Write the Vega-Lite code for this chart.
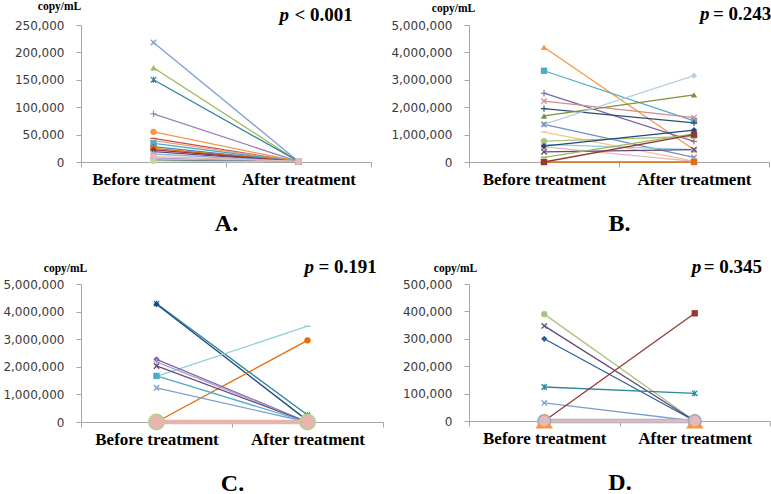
{
  "$schema": "https://vega.github.io/schema/vega-lite/v6.json",
  "padding": {"left": 2, "top": 0, "right": 0, "bottom": 0},
  "background": "white",
  "config": {
    "view": {"stroke": null},
    "legend": {"disable": true},
    "axis": {"grid": false, "domainColor": "#a6a6a6", "tickColor": "#a6a6a6", "tickSize": 5, "labelFont": "DejaVu Sans", "labelFontSize": 12, "labelColor": "#3a3a3a", "titleFont": "Liberation Serif", "titleFontWeight": "bold", "titleColor": "#000000"},
    "axisX": {"labelFont": "Liberation Serif", "labelFontSize": 17, "labelFontWeight": "bold", "labelColor": "#000000", "labelAngle": 0, "tickBand": "extent", "labelPadding": 4, "titleFontSize": 24, "titlePadding": 24},
    "axisY": {"titleAngle": 0, "titleFontSize": 11.5, "titleAlign": "center", "titleBaseline": "alphabetic", "labelPadding": 12}
  },
  "datasets": {
    "A": [
      {"id": "a1", "Before treatment": 218000, "After treatment": 1000},
      {"id": "a2", "Before treatment": 172000, "After treatment": 800},
      {"id": "a3", "Before treatment": 150000, "After treatment": 1200},
      {"id": "a4", "Before treatment": 88000, "After treatment": 600},
      {"id": "a5", "Before treatment": 55000, "After treatment": 900},
      {"id": "a6", "Before treatment": 43000, "After treatment": 500},
      {"id": "a7", "Before treatment": 39000, "After treatment": 700},
      {"id": "a8", "Before treatment": 34000, "After treatment": 800},
      {"id": "a9", "Before treatment": 28000, "After treatment": 400},
      {"id": "a10", "Before treatment": 25000, "After treatment": 600},
      {"id": "a11", "Before treatment": 22000, "After treatment": 500},
      {"id": "a12", "Before treatment": 19000, "After treatment": 300},
      {"id": "a13", "Before treatment": 14600, "After treatment": 400},
      {"id": "a15", "Before treatment": 7000, "After treatment": 500},
      {"id": "a16", "Before treatment": 3600, "After treatment": 300},
      {"id": "a17", "Before treatment": 2000, "After treatment": 200},
      {"id": "a14", "Before treatment": 9700, "After treatment": 1500}
    ],
    "B": [
      {"id": "b1", "Before treatment": 4190000, "After treatment": 450000},
      {"id": "b2", "Before treatment": 3330000, "After treatment": 1500000},
      {"id": "b3", "Before treatment": 2510000, "After treatment": 750000},
      {"id": "b4", "Before treatment": 2220000, "After treatment": 1620000},
      {"id": "b5", "Before treatment": 1950000, "After treatment": 1430000},
      {"id": "b6", "Before treatment": 1680000, "After treatment": 2450000},
      {"id": "b7", "Before treatment": 1370000, "After treatment": 3150000},
      {"id": "b8", "Before treatment": 1370000, "After treatment": 170000},
      {"id": "b9", "Before treatment": 1090000, "After treatment": 30000},
      {"id": "b10", "Before treatment": 760000, "After treatment": 930000},
      {"id": "b11", "Before treatment": 640000, "After treatment": 450000},
      {"id": "b12", "Before treatment": 550000, "After treatment": 20000},
      {"id": "b13", "Before treatment": 580000, "After treatment": 1160000},
      {"id": "b14", "Before treatment": 370000, "After treatment": 450000},
      {"id": "b15", "Before treatment": 170000, "After treatment": 1030000},
      {"id": "b16", "Before treatment": 0, "After treatment": 0},
      {"id": "b17", "Before treatment": 0, "After treatment": 1000000}
    ],
    "C": [
      {"id": "c1", "Before treatment": 4290000, "After treatment": 250000},
      {"id": "c2", "Before treatment": 4270000, "After treatment": 50000},
      {"id": "c3", "Before treatment": 1650000, "After treatment": 3470000},
      {"id": "c4", "Before treatment": 0, "After treatment": 2960000},
      {"id": "c5", "Before treatment": 2270000, "After treatment": 0},
      {"id": "c6", "Before treatment": 2180000, "After treatment": 0},
      {"id": "c7", "Before treatment": 2030000, "After treatment": 0},
      {"id": "c8", "Before treatment": 1670000, "After treatment": 0},
      {"id": "c9", "Before treatment": 1240000, "After treatment": 0},
      {"id": "c12", "Before treatment": 0, "After treatment": 0},
      {"id": "c10", "Before treatment": 0, "After treatment": 0},
      {"id": "c11", "Before treatment": 0, "After treatment": 0}
    ],
    "D": [
      {"id": "d1", "Before treatment": 390000, "After treatment": 0},
      {"id": "d2", "Before treatment": 347000, "After treatment": 0},
      {"id": "d3", "Before treatment": 300000, "After treatment": 0},
      {"id": "d4", "Before treatment": 124000, "After treatment": 101000},
      {"id": "d5", "Before treatment": 66000, "After treatment": 0},
      {"id": "d6", "Before treatment": 0, "After treatment": 393000},
      {"id": "d7", "Before treatment": 0, "After treatment": 0},
      {"id": "d8", "Before treatment": 0, "After treatment": 0},
      {"id": "d9", "Before treatment": 0, "After treatment": 0},
      {"id": "d10", "Before treatment": 0, "After treatment": 0}
    ]
  },
  "columns": 2,
  "bounds": "flush",
  "spacing": {"row": 122, "column": 86},
  "resolve": {"scale": {"color": "independent", "shape": "independent"}},
  "concat": [
    {
      "width": 290, "height": 137,
      "data": {"name": "A"},
      "transform": [{"fold": ["Before treatment", "After treatment"], "as": ["time", "value"]}],
      "encoding": {
        "x": {"field": "time", "type": "nominal", "scale": {"type": "band", "domain": ["Before treatment", "After treatment"], "paddingInner": 0, "paddingOuter": 0}, "axis": {"title": "A."}},
        "y": {"field": "value", "type": "quantitative", "scale": {"domain": [0, 250000], "nice": false}, "axis": {"title": "copy/mL", "values": [0, 50000, 100000, 150000, 200000, 250000], "format": ",d", "titleX": -22, "titleY": -15.5}},
        "color": {"field": "id", "type": "nominal", "legend": null, "scale": {"domain": ["a1","a2","a3","a4","a5","a6","a7","a8","a9","a10","a11","a12","a13","a14","a15","a16","a17"], "range": ["#7F9FD0","#9BBB59","#31859C","#9983B5","#F79646","#C0504D","#F2A07B","#4BACC6","#4F81BD","#E46C0A","#953735","#604A7B","#95B3D7","#E6B9B8","#B3A2C7","#1F497D","#C3D69B"]}}
      },
      "layer": [
        {"mark": {"type": "line", "strokeWidth": 1.3}},
        {"mark": {"type": "point", "filled": true, "opacity": 1, "size": 40},
         "encoding": {"shape": {"field": "id", "type": "nominal", "legend": null, "scale": {"domain": ["a1","a2","a3","a4","a5","a6","a7","a8","a9","a10","a11","a12","a13","a14","a15","a16","a17"], "range": ["M-1,-0.7L-0.7,-1L0,-0.3L0.7,-1L1,-0.7L0.3,0L1,0.7L0.7,1L0,0.3L-0.7,1L-1,0.7L-0.3,0Z","triangle-up","M-1,-0.7L-0.7,-1L0,-0.3L0.7,-1L1,-0.7L0.3,0L1,0.7L0.7,1L0,0.3L-0.7,1L-1,0.7L-0.3,0ZM-0.15,-1L0.15,-1L0.15,1L-0.15,1Z","M-1,-0.18L-0.18,-0.18L-0.18,-1L0.18,-1L0.18,-0.18L1,-0.18L1,0.18L0.18,0.18L0.18,1L-0.18,1L-0.18,0.18L-1,0.18Z","circle","M-1,-0.22L1,-0.22L1,0.22L-1,0.22Z","M-1,-0.22L1,-0.22L1,0.22L-1,0.22Z","square","diamond","square","diamond","M-1,-0.7L-0.7,-1L0,-0.3L0.7,-1L1,-0.7L0.3,0L1,0.7L0.7,1L0,0.3L-0.7,1L-1,0.7L-0.3,0Z","diamond","square","circle","diamond","circle"]}}}},
        {"transform": [{"filter": "datum.id === 'a1' && datum.time === 'After treatment'"}], "mark": {"type": "text", "text": "p", "font": "Liberation Serif", "fontSize": 19, "fontWeight": "bold", "fontStyle": "italic", "align": "left", "baseline": "alphabetic", "dx": -19, "dy": -4, "color": "#000000"},
         "encoding": {"y": {"datum": 250000, "type": "quantitative"}, "color": {"value": "#000000"}}},
        {"transform": [{"filter": "datum.id === 'a1' && datum.time === 'After treatment'"}], "mark": {"type": "text", "text": "< 0.001", "font": "Liberation Serif", "fontSize": 19, "fontWeight": "bold", "align": "left", "baseline": "alphabetic", "dx": -4, "dy": -4, "color": "#000000"},
         "encoding": {"y": {"datum": 250000, "type": "quantitative"}, "color": {"value": "#000000"}}}
      ]
    },
    {
      "width": 300, "height": 137,
      "data": {"name": "B"},
      "transform": [{"fold": ["Before treatment", "After treatment"], "as": ["time", "value"]}],
      "encoding": {
        "x": {"field": "time", "type": "nominal", "scale": {"type": "band", "domain": ["Before treatment", "After treatment"], "paddingInner": 0, "paddingOuter": 0}, "axis": {"title": "B."}},
        "y": {"field": "value", "type": "quantitative", "scale": {"domain": [0, 5000000], "nice": false}, "axis": {"title": "copy/mL", "values": [0, 1000000, 2000000, 3000000, 4000000, 5000000], "format": ",d", "titleX": -16, "titleY": -14}},
        "color": {"field": "id", "type": "nominal", "legend": null, "scale": {"domain": ["b1","b2","b3","b4","b5","b6","b7","b8","b9","b10","b11","b12","b13","b14","b15","b16","b17"], "range": ["#F79646","#4BACC6","#8064A2","#D58B89","#2C4D75","#77933C","#B9CDE5","#6F8FC9","#FAC090","#A9C47F","#93CDDD","#E6B9B8","#1F497D","#604A7B","#9BBB59","#E46C0A","#953735"]}}
      },
      "layer": [
        {"mark": {"type": "line", "strokeWidth": 1.3}},
        {"mark": {"type": "point", "filled": true, "opacity": 1, "size": 40},
         "encoding": {"shape": {"field": "id", "type": "nominal", "legend": null, "scale": {"domain": ["b1","b2","b3","b4","b5","b6","b7","b8","b9","b10","b11","b12","b13","b14","b15","b16","b17"], "range": ["triangle-up","square","M-1,-0.18L-0.18,-0.18L-0.18,-1L0.18,-1L0.18,-0.18L1,-0.18L1,0.18L0.18,0.18L0.18,1L-0.18,1L-0.18,0.18L-1,0.18Z","M-1,-0.7L-0.7,-1L0,-0.3L0.7,-1L1,-0.7L0.3,0L1,0.7L0.7,1L0,0.3L-0.7,1L-1,0.7L-0.3,0Z","M-1,-0.18L-0.18,-0.18L-0.18,-1L0.18,-1L0.18,-0.18L1,-0.18L1,0.18L0.18,0.18L0.18,1L-0.18,1L-0.18,0.18L-1,0.18Z","triangle-up","diamond","M-1,-0.7L-0.7,-1L0,-0.3L0.7,-1L1,-0.7L0.3,0L1,0.7L0.7,1L0,0.3L-0.7,1L-1,0.7L-0.3,0Z","M-1,-0.22L1,-0.22L1,0.22L-1,0.22Z","circle","M-1,-0.22L1,-0.22L1,0.22L-1,0.22Z","square","diamond","M-1,-0.7L-0.7,-1L0,-0.3L0.7,-1L1,-0.7L0.3,0L1,0.7L0.7,1L0,0.3L-0.7,1L-1,0.7L-0.3,0Z","M-1,-0.22L1,-0.22L1,0.22L-1,0.22Z","square","square"]}}}},
        {"transform": [{"filter": "datum.id === 'b1' && datum.time === 'After treatment'"}], "mark": {"type": "text", "text": "p", "font": "Liberation Serif", "fontSize": 19, "fontWeight": "bold", "fontStyle": "italic", "align": "left", "baseline": "alphabetic", "dx": 6, "dy": -5, "color": "#000000"},
         "encoding": {"y": {"datum": 5000000, "type": "quantitative"}, "color": {"value": "#000000"}}},
        {"transform": [{"filter": "datum.id === 'b1' && datum.time === 'After treatment'"}], "mark": {"type": "text", "text": "= 0.243", "font": "Liberation Serif", "fontSize": 19, "fontWeight": "bold", "align": "left", "baseline": "alphabetic", "dx": 19, "dy": -5, "color": "#000000"},
         "encoding": {"y": {"datum": 5000000, "type": "quantitative"}, "color": {"value": "#000000"}}}
      ]
    },
    {
      "width": 302, "height": 138,
      "data": {"name": "C"},
      "transform": [{"fold": ["Before treatment", "After treatment"], "as": ["time", "value"]}],
      "encoding": {
        "x": {"field": "time", "type": "nominal", "scale": {"type": "band", "domain": ["Before treatment", "After treatment"], "paddingInner": 0, "paddingOuter": 0}, "axis": {"title": "C."}},
        "y": {"field": "value", "type": "quantitative", "scale": {"domain": [0, 5000000], "nice": false}, "axis": {"title": "copy/mL", "values": [0, 1000000, 2000000, 3000000, 4000000, 5000000], "format": ",d", "titleX": -16, "titleY": -13}},
        "color": {"field": "id", "type": "nominal", "legend": null, "scale": {"domain": ["c1","c2","c3","c4","c5","c6","c7","c8","c9","c10","c11","c12"], "range": ["#31859C","#1F497D","#93CDDD","#E46C0A","#8064A2","#B3A2C7","#604A7B","#4BACC6","#7F9FD0","#B8D08F","#E8B4B0","#F5B183"]}}
      },
      "layer": [
        {"mark": {"type": "line"},
         "encoding": {"strokeWidth": {"condition": [{"test": "datum.id === 'c11'", "value": 4.5}, {"test": "datum.id === 'c12'", "value": 3}], "value": 1.3}}},
        {"mark": {"type": "point", "filled": true, "opacity": 1},
         "encoding": {
           "size": {"condition": [{"test": "datum.id === 'c10'", "value": 290}, {"test": "datum.id === 'c11'", "value": 180}], "value": 40},
           "shape": {"field": "id", "type": "nominal", "legend": null, "scale": {"domain": ["c1","c2","c3","c4","c5","c6","c7","c8","c9","c10","c11","c12"], "range": ["M-1,-0.7L-0.7,-1L0,-0.3L0.7,-1L1,-0.7L0.3,0L1,0.7L0.7,1L0,0.3L-0.7,1L-1,0.7L-0.3,0ZM-0.15,-1L0.15,-1L0.15,1L-0.15,1Z","diamond","M-1,-0.22L1,-0.22L1,0.22L-1,0.22Z","circle","diamond","M-1,-0.18L-0.18,-0.18L-0.18,-1L0.18,-1L0.18,-0.18L1,-0.18L1,0.18L0.18,0.18L0.18,1L-0.18,1L-0.18,0.18L-1,0.18Z","M-1,-0.7L-0.7,-1L0,-0.3L0.7,-1L1,-0.7L0.3,0L1,0.7L0.7,1L0,0.3L-0.7,1L-1,0.7L-0.3,0Z","square","M-1,-0.7L-0.7,-1L0,-0.3L0.7,-1L1,-0.7L0.3,0L1,0.7L0.7,1L0,0.3L-0.7,1L-1,0.7L-0.3,0Z","circle","circle","M-1,-0.22L1,-0.22L1,0.22L-1,0.22Z"]}}}},
        {"transform": [{"filter": "datum.id === 'c1' && datum.time === 'After treatment'"}], "mark": {"type": "text", "text": "p", "font": "Liberation Serif", "fontSize": 19, "fontWeight": "bold", "fontStyle": "italic", "align": "left", "baseline": "alphabetic", "dx": -3, "dy": -11, "color": "#000000"},
         "encoding": {"y": {"datum": 5000000, "type": "quantitative"}, "color": {"value": "#000000"}}},
        {"transform": [{"filter": "datum.id === 'c1' && datum.time === 'After treatment'"}], "mark": {"type": "text", "text": "= 0.191", "font": "Liberation Serif", "fontSize": 19, "fontWeight": "bold", "align": "left", "baseline": "alphabetic", "dx": 11, "dy": -11, "color": "#000000"},
         "encoding": {"y": {"datum": 5000000, "type": "quantitative"}, "color": {"value": "#000000"}}}
      ]
    },
    {
      "width": 301, "height": 137,
      "data": {"name": "D"},
      "transform": [{"fold": ["Before treatment", "After treatment"], "as": ["time", "value"]}],
      "encoding": {
        "x": {"field": "time", "type": "nominal", "scale": {"type": "band", "domain": ["Before treatment", "After treatment"], "paddingInner": 0, "paddingOuter": 0}, "axis": {"title": "D."}},
        "y": {"field": "value", "type": "quantitative", "scale": {"domain": [0, 500000], "nice": false}, "axis": {"title": "copy/mL", "values": [0, 100000, 200000, 300000, 400000, 500000], "format": ",d", "titleX": -14, "titleY": -13}},
        "color": {"field": "id", "type": "nominal", "legend": null, "scale": {"domain": ["d1","d2","d3","d4","d5","d6","d7","d8","d9","d10"], "range": ["#A9C47F","#604A7B","#2C5D9C","#31859C","#7F9FD0","#953735","#9BBB59","#8EAED0","#F79646","#E6B9B8"]}}
      },
      "layer": [
        {"mark": {"type": "line"},
         "encoding": {"strokeWidth": {"condition": [{"test": "datum.id === 'd8'", "value": 4.5}, {"test": "datum.id === 'd10'", "value": 3}], "value": 1.3}}},
        {"mark": {"type": "point", "filled": true, "opacity": 1},
         "encoding": {
           "size": {"condition": [{"test": "datum.id === 'd8'", "value": 200}, {"test": "datum.id === 'd9'", "value": 300}, {"test": "datum.id === 'd10'", "value": 120}], "value": 40},
           "shape": {"field": "id", "type": "nominal", "legend": null, "scale": {"domain": ["d1","d2","d3","d4","d5","d6","d7","d8","d9","d10"], "range": ["circle","M-1,-0.7L-0.7,-1L0,-0.3L0.7,-1L1,-0.7L0.3,0L1,0.7L0.7,1L0,0.3L-0.7,1L-1,0.7L-0.3,0Z","diamond","M-1,-0.7L-0.7,-1L0,-0.3L0.7,-1L1,-0.7L0.3,0L1,0.7L0.7,1L0,0.3L-0.7,1L-1,0.7L-0.3,0ZM-0.15,-1L0.15,-1L0.15,1L-0.15,1Z","M-1,-0.7L-0.7,-1L0,-0.3L0.7,-1L1,-0.7L0.3,0L1,0.7L0.7,1L0,0.3L-0.7,1L-1,0.7L-0.3,0Z","square","square","circle","triangle-up","circle"]}}}},
        {"transform": [{"filter": "datum.id === 'd1' && datum.time === 'After treatment'"}], "mark": {"type": "text", "text": "p", "font": "Liberation Serif", "fontSize": 19, "fontWeight": "bold", "fontStyle": "italic", "align": "left", "baseline": "alphabetic", "dx": -3, "dy": -11, "color": "#000000"},
         "encoding": {"y": {"datum": 500000, "type": "quantitative"}, "color": {"value": "#000000"}}},
        {"transform": [{"filter": "datum.id === 'd1' && datum.time === 'After treatment'"}], "mark": {"type": "text", "text": "= 0.345", "font": "Liberation Serif", "fontSize": 19, "fontWeight": "bold", "align": "left", "baseline": "alphabetic", "dx": 9, "dy": -11, "color": "#000000"},
         "encoding": {"y": {"datum": 500000, "type": "quantitative"}, "color": {"value": "#000000"}}}
      ]
    }
  ]
}
